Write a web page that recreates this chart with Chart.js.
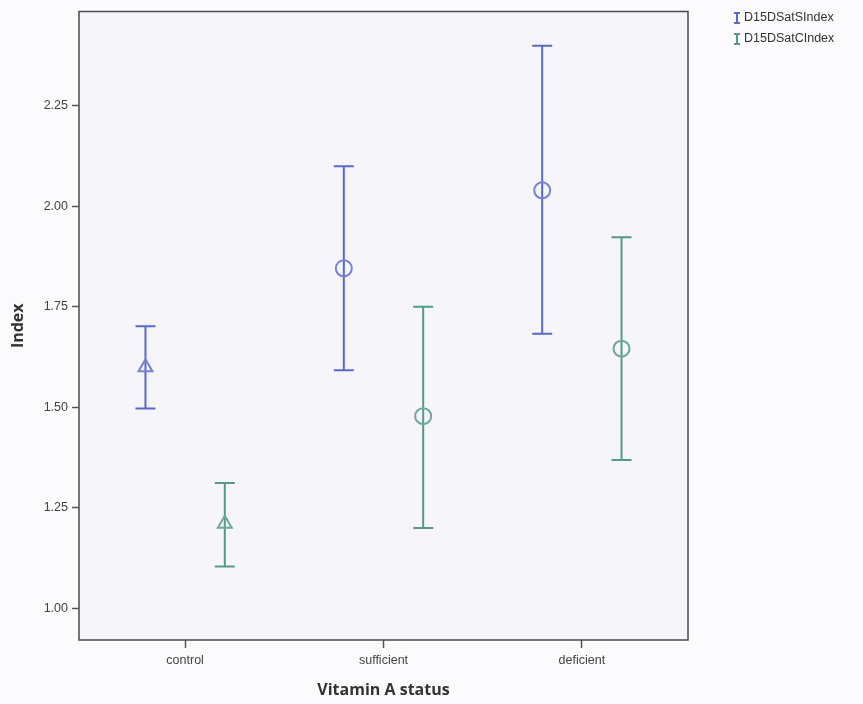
<!DOCTYPE html>
<html>
<head>
<meta charset="utf-8">
<script src="https://cdn.jsdelivr.net/npm/chart.js@4/dist/chart.umd.min.js"></script>
<style>
  html, body { margin: 0; padding: 0; background: #fbfbfd; }
  #wrap { width: 863px; height: 704px; }
</style>
</head>
<body>
<div id="wrap"><canvas id="chart" width="863" height="704"></canvas></div>
<script>
// categories and series
const categories = ['control', 'sufficient', 'deficient'];
const seriesNames = ['D15DSatSIndex', 'D15DSatCIndex'];
const seriesColors = ['#5b68d4', '#519b89'];
const markerColors = ['#7680dc', '#6aa99b'];
const markerStyles = ['triangle', 'circle', 'circle'];
const markerSizes = [8, 8, 8];
const seriesOffset = [-0.2, 0.2];

// means with lower / upper error bar ends
const satSMean = [1.600, 1.846, 2.040];
const satSLow = [1.497, 1.592, 1.683];
const satSHigh = [1.702, 2.100, 2.400];
const satCMean = [1.210, 1.478, 1.646];
const satCLow = [1.104, 1.200, 1.369];
const satCHigh = [1.312, 1.750, 1.923];

const means = [satSMean, satCMean];
const lows = [satSLow, satCLow];
const highs = [satSHigh, satCHigh];

const datasets = seriesNames.map(function(name, s) {
  return {
    label: name,
    data: categories.map(function(c, i) {
      return { x: i + seriesOffset[s], y: means[s][i], low: lows[s][i], high: highs[s][i] };
    }),
    borderColor: markerColors[s],
    backgroundColor: 'rgba(0,0,0,0)',
    pointStyle: markerStyles,
    pointRadius: markerSizes,
    pointBorderWidth: 2,
    pointHoverRadius: markerSizes
  };
});

// whiskers + caps, drawn through the scales
const errorBars = {
  id: 'errorBars',
  beforeDatasetsDraw(chart) {
    const ctx = chart.ctx;
    const xs = chart.scales.x, ys = chart.scales.y;
    ctx.save();
    chart.data.datasets.forEach(function(ds, s) {
      ctx.strokeStyle = seriesColors[s];
      ctx.lineWidth = 2;
      ds.data.forEach(function(p) {
        const x = xs.getPixelForValue(p.x);
        const y1 = ys.getPixelForValue(p.low);
        const y2 = ys.getPixelForValue(p.high);
        ctx.beginPath();
        ctx.moveTo(x, y1); ctx.lineTo(x, y2);
        ctx.moveTo(x - 10, y1); ctx.lineTo(x + 10, y1);
        ctx.moveTo(x - 10, y2); ctx.lineTo(x + 10, y2);
        ctx.stroke();
      });
    });
    ctx.restore();
  }
};

// plot background and frame
const frame = {
  id: 'frame',
  beforeDraw(chart) {
    const a = chart.chartArea, ctx = chart.ctx;
    ctx.save();
    ctx.fillStyle = '#f5f5fa';
    ctx.fillRect(a.left, a.top, a.right - a.left, a.bottom - a.top);
    ctx.restore();
  },
  afterDraw(chart) {
    const a = chart.chartArea, ctx = chart.ctx;
    ctx.save();
    ctx.strokeStyle = '#4a4a4a';
    ctx.lineWidth = 1.5;
    ctx.strokeRect(a.left, a.top, a.right - a.left, a.bottom - a.top);
    ctx.restore();
  }
};

// legend top right with error bar icons
const ibeamLegend = {
  id: 'ibeamLegend',
  afterDraw(chart) {
    const ctx = chart.ctx;
    ctx.save();
    ctx.font = '12.5px "Liberation Sans", Arial, sans-serif';
    ctx.textBaseline = 'middle';
    seriesNames.forEach(function(name, s) {
      const y = 18 + s * 21;
      const x = 737;
      ctx.strokeStyle = seriesColors[s];
      ctx.lineWidth = 2;
      ctx.beginPath();
      ctx.moveTo(x, y - 5); ctx.lineTo(x, y + 5);
      ctx.moveTo(x - 3, y - 5); ctx.lineTo(x + 3, y - 5);
      ctx.moveTo(x - 3, y + 5); ctx.lineTo(x + 3, y + 5);
      ctx.stroke();
      ctx.fillStyle = '#333';
      ctx.fillText(name, x + 7, y);
    });
    ctx.restore();
  }
};

new Chart(document.getElementById('chart'), {
  type: 'scatter',
  data: { datasets: datasets },
  plugins: [frame, errorBars, ibeamLegend],
  options: {
    responsive: false,
    animation: false,
    layout: { padding: { top: 5, right: 175, left: 0, bottom: 0 } },
    plugins: {
      legend: { display: false },
      tooltip: { enabled: false }
    },
    scales: {
      x: {
        type: 'linear',
        min: -0.535,
        max: 2.535,
        afterFit: function(scale) { scale.height = 64; },
        afterBuildTicks: function(scale) {
          scale.ticks = categories.map(function(c, i) { return { value: i }; });
        },
        ticks: {
          callback: function(v) { return categories[v]; },
          color: '#444',
          font: { family: '"Liberation Sans", Arial, sans-serif', size: 12.5 },
          padding: 5
        },
        grid: { drawOnChartArea: false, tickLength: 8, color: '#555', tickWidth: 1.5 },
        border: { display: false },
        title: {
          display: true,
          text: 'Vitamin A status',
          color: '#333',
          font: { family: '"Open Sans", sans-serif', size: 16, weight: 'bold' },
          padding: { top: 6 }
        }
      },
      y: {
        min: 0.921,
        max: 2.485,
        afterFit: function(scale) { scale.width = 79; },
        ticks: {
          stepSize: 0.25,
          includeBounds: false,
          callback: function(v) { return v.toFixed(2); },
          color: '#444',
          font: { family: '"Liberation Sans", Arial, sans-serif', size: 12.5 },
          padding: 4
        },
        grid: { drawOnChartArea: false, tickLength: 7, color: '#555', tickWidth: 1.5 },
        border: { display: false },
        title: {
          display: true,
          text: 'Index',
          color: '#333',
          font: { family: '"Open Sans", sans-serif', size: 16, weight: 'bold' },
          padding: { bottom: 0, top: 9 }
        }
      }
    }
  }
});
</script>
</body>
</html>
